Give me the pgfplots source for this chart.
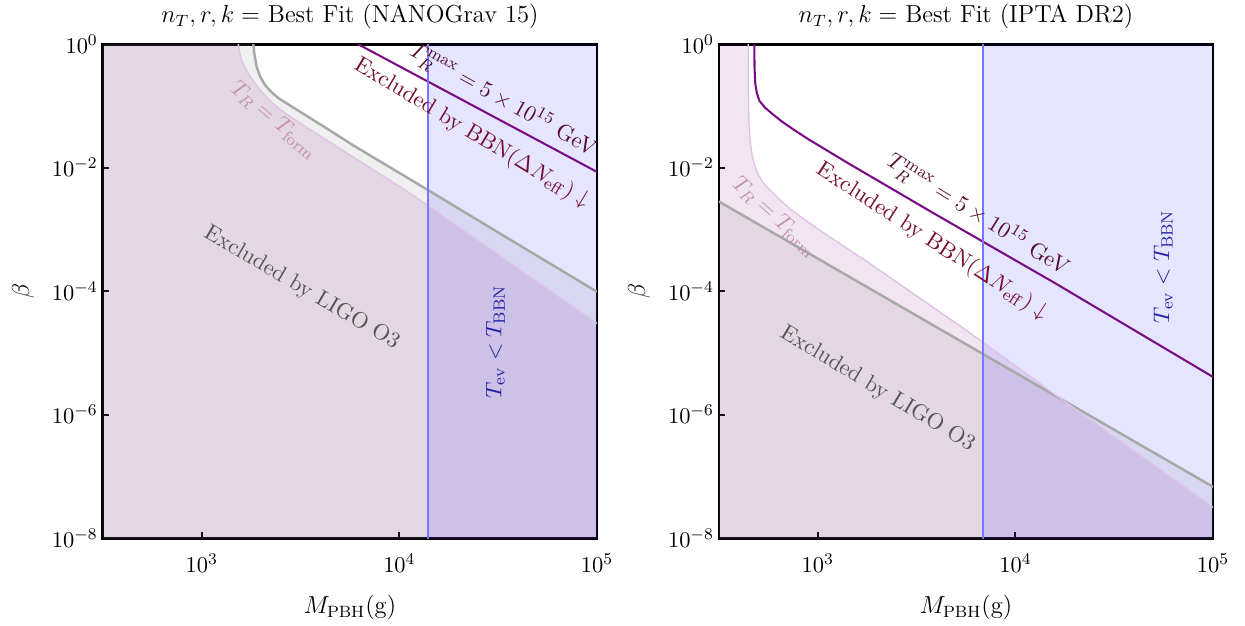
\documentclass[border=0pt]{standalone}
\usepackage{pgfplots}
\pgfplotsset{compat=1.18}
\definecolor{bbn}{RGB}{120,10,130}
\definecolor{bbntext}{RGB}{118,12,50}
\definecolor{tmaxtext}{RGB}{85,12,45}
\definecolor{formtext}{RGB}{195,145,170}
\definecolor{formline}{RGB}{222,196,228}
\definecolor{formfill}{RGB}{128,0,128}
\definecolor{ligoline}{RGB}{168,168,168}
\definecolor{ligotext}{RGB}{85,85,85}
\definecolor{evline}{RGB}{118,118,255}
\definecolor{evtext}{RGB}{30,30,165}
\tikzset{annot/.style={font=\fontsize{10.95}{13}\selectfont}}
\pgfplotsset{
  every axis title/.style={at={(axis description cs:0.5,1)}, anchor=base, yshift=10.3pt, font=\fontsize{12}{14.4}\selectfont},
  every axis x label/.style={at={(axis description cs:0.5,0)}, anchor=base, yshift=-37pt, font=\fontsize{12}{14.4}\selectfont},
  every axis y label/.style={at={(axis description cs:0,0.5)}, rotate=90, anchor=center, yshift=39pt, font=\fontsize{12}{14.4}\selectfont},
  mypanel/.style={scale only axis, width=241pt, height=241pt,
  xmin=316.23, xmax=1e5, ymin=1e-8, ymax=1,
  xtick={1e3,1e4,1e5}, ytick={1e-8,1e-6,1e-4,1e-2,1},
  tick align=inside, xtick pos=bottom, ytick pos=left,
  axis line style={line width=1.4pt},
  major tick style={line width=1pt,black}, major tick length=3pt,
  minor tick style={draw=none},
  tick label style={font=\fontsize{10.95}{13}\selectfont},
  xticklabel style={anchor=base, yshift=-17pt},
  yticklabel style={xshift=1pt},
  xlabel={$M_{\mathrm{PBH}}$(g)}, ylabel={$\beta$}}}
\begin{document}
\begin{tikzpicture}
\useasboundingbox (-50.2pt,-42.4pt) rectangle (557.1pt,262.5pt);
% ---------------- left panel ----------------
\begin{loglogaxis}[mypanel, at={(0pt,0pt)}, anchor=south west,
  title={$n_T, r, k =$ Best Fit (NANOGrav 15)}]
\addplot[draw=none, fill=gray, fill opacity=0.12] coordinates {
(100,10)(1820,10)(1824,1)(1845,0.708)(1897,0.4266)(1972,0.302)(2089,0.2188)(2239,0.1698)(2455,0.1318)(2754,0.1047)(3162,0.0794)(3981,0.0501)(5848,0.0229)(8279,0.01175)(13740,0.004467)(31623,8.91e-4)(1e5,9.77e-5)(1e5,1e-9)(100,1e-9)};
\addplot[draw=none, fill=formfill, fill opacity=0.1] coordinates {
(100,10)(1528,10)(1531,1)(1549,0.7586)(1592,0.5495)(1641,0.4365)(1718,0.335)(1820,0.257)(1972,0.1799)(2188,0.1259)(2489,0.0871)(2884,0.0631)(3396,0.04467)(4819,0.02188)(7096,0.01)(10069,0.0049)(13740,0.002512)(31623,3.89e-4)(1e5,3.02e-5)(1e5,1e-9)(100,1e-9)};
\addplot[draw=none, fill=blue, fill opacity=0.1] coordinates {
(13900,1e-9)(1e6,1e-9)(1e6,10)(13900,10)};
\addplot[no marks, line width=1.2pt, ligoline] coordinates {
(1820,10)(1824,1)(1845,0.708)(1897,0.4266)(1972,0.302)(2089,0.2188)(2239,0.1698)(2455,0.1318)(2754,0.1047)(3162,0.0794)(3981,0.0501)(5848,0.0229)(8279,0.01175)(13740,0.004467)(31623,8.91e-4)(1e5,9.77e-5)};
\addplot[no marks, line width=0.7pt, formline] coordinates {
(1528,10)(1531,1)(1549,0.7586)(1592,0.5495)(1641,0.4365)(1718,0.335)(1820,0.257)(1972,0.1799)(2188,0.1259)(2489,0.0871)(2884,0.0631)(3396,0.04467)(4819,0.02188)(7096,0.01)(10069,0.0049)(13740,0.002512)(31623,3.89e-4)(1e5,3.02e-5)};
\addplot[no marks, line width=1pt, bbn] coordinates {(6166,1)(1e5,0.00851)};
\addplot[no marks, line width=1.1pt, evline] coordinates {(13900,1e-9)(13900,10)};
\node[annot, rotate=-29, text=tmaxtext] at (axis cs:33400,0.124) {$T_R^{\mathrm{max}} = 5\times 10^{15}$ GeV};
\node[annot, rotate=-31, text=bbntext] at (axis cs:23200,0.036) {Excluded by BBN$(\Delta N_{\mathrm{eff}})\downarrow$};
\node[annot, rotate=-40, text=formtext] at (axis cs:2323,0.0593) {$T_R = T_{\mathrm{form}}$};
\node[annot, rotate=-30.5, text=ligotext] at (axis cs:3206,1.12e-4) {Excluded by LIGO O3};
\node[annot, rotate=90, text=evtext] at (axis cs:30600,1.5e-5) {$T_{\mathrm{ev}} < T_{\mathrm{BBN}}$};
\end{loglogaxis}
% ---------------- right panel ----------------
\begin{loglogaxis}[mypanel, at={(300.5pt,0pt)}, anchor=south west,
  title={$n_T, r, k =$ Best Fit (IPTA DR2)}]
\addplot[draw=none, fill=gray, fill opacity=0.12] coordinates {
(100,0.0236)(1e5,6.78e-8)(1e5,1e-9)(100,1e-9)};
\addplot[draw=none, fill=formfill, fill opacity=0.1] coordinates {
(100,10)(444.6,10)(444.6,1)(445.6,0.1585)(448.7,0.0501)(455.0,0.02512)(465.6,0.01585)(480.8,0.01047)(501.2,0.00759)(530.9,0.005623)(562.3,0.004571)(631.0,0.003162)(738.0,0.002042)(891.3,0.001318)(1086,8.51e-4)(1734,3.162e-4)(3105,8.71e-5)(5559,2.399e-5)(16444,1.95e-6)(1e5,3.162e-8)(1e5,1e-9)(100,1e-9)};
\addplot[draw=none, fill=blue, fill opacity=0.1] coordinates {
(6870,1e-9)(1e6,1e-9)(1e6,10)(6870,10)};
\addplot[no marks, line width=1.2pt, ligoline] coordinates {(316.23,2.82e-3)(1e5,6.78e-8)};
\addplot[no marks, line width=0.7pt, formline] coordinates {
(444.6,10)(444.6,1)(445.6,0.1585)(448.7,0.0501)(455.0,0.02512)(465.6,0.01585)(480.8,0.01047)(501.2,0.00759)(530.9,0.005623)(562.3,0.004571)(631.0,0.003162)(738.0,0.002042)(891.3,0.001318)(1086,8.51e-4)(1734,3.162e-4)(3105,8.71e-5)(5559,2.399e-5)(16444,1.95e-6)(1e5,3.162e-8)};
\addplot[no marks, line width=1pt, bbn] coordinates {
(477.5,10)(477.5,1)(478.6,0.398)(483.1,0.2239)(492.0,0.1585)(507.0,0.1202)(540.8,0.0933)(588.8,0.0741)(656.1,0.0562)(758.6,0.0407)(895.4,0.02884)(1426,0.01175)(2275,0.0049)(3767,0.001905)(6855,6.31e-4)(15849,1.349e-4)(39811,2.344e-5)(1e5,4.07e-6)};
\addplot[no marks, line width=1.1pt, evline] coordinates {(6870,1e-9)(6870,10)};
\node[annot, rotate=-32, text=tmaxtext] at (axis cs:6460,1.7e-3) {$T_R^{\mathrm{max}} = 5\times 10^{15}$ GeV};
\node[annot, rotate=-33, text=bbntext] at (axis cs:3795,6.3e-4) {Excluded by BBN$(\Delta N_{\mathrm{eff}})\downarrow$};
\node[annot, rotate=-42, text=formtext] at (axis cs:605,1.6e-3) {$T_R = T_{\mathrm{form}}$};
\node[annot, rotate=-31, text=ligotext] at (axis cs:2003,2.6e-6) {Excluded by LIGO O3};
\node[annot, rotate=90, text=evtext] at (axis cs:56000,2.5e-4) {$T_{\mathrm{ev}} < T_{\mathrm{BBN}}$};
\end{loglogaxis}
\end{tikzpicture}
\end{document}
